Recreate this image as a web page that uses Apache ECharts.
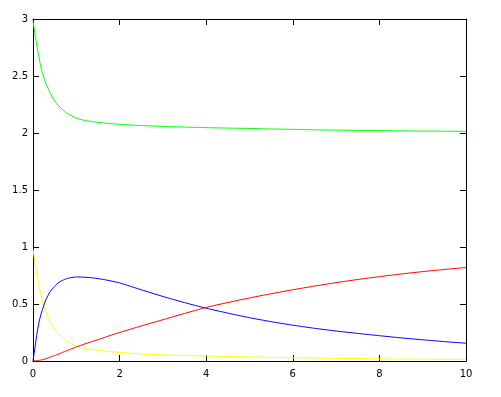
<!DOCTYPE html>
<html>
<head>
<meta charset="utf-8">
<script src="https://cdn.jsdelivr.net/npm/echarts@6/dist/echarts.min.js"></script>
<style>
html,body{margin:0;padding:0;background:#fff;}
#chart{width:501px;height:397px;}
</style>
</head>
<body>
<div id="chart"></div>
<script>
var times = [0, 0.05, 0.1, 0.15, 0.2, 0.3, 0.4, 0.5, 0.6, 0.7, 0.8, 1.0, 1.2, 1.4, 1.6, 1.8, 2.0, 2.5, 3.0, 3.5, 4.0, 4.5, 5.0, 5.5, 6.0, 6.5, 7.0, 7.5, 8.0, 8.5, 9.0, 9.5, 10];
var greenVals = [2.98, 2.86, 2.74, 2.64, 2.55, 2.43, 2.35, 2.28, 2.235, 2.20, 2.17, 2.13, 2.11, 2.098, 2.09, 2.082, 2.076, 2.065, 2.058, 2.052, 2.047, 2.043, 2.04, 2.035, 2.032, 2.028, 2.025, 2.023, 2.021, 2.019, 2.017, 2.016, 2.015];
var yellowVals = [0.98, 0.85, 0.74, 0.64, 0.55, 0.43, 0.34, 0.28, 0.235, 0.20, 0.17, 0.13, 0.11, 0.098, 0.09, 0.082, 0.076, 0.062, 0.054, 0.048, 0.044, 0.04, 0.036, 0.032, 0.029, 0.026, 0.023, 0.021, 0.019, 0.017, 0.016, 0.015, 0.014];
var blueVals = [0, 0.13, 0.26, 0.36, 0.43, 0.54, 0.61, 0.655, 0.69, 0.71, 0.725, 0.737, 0.735, 0.728, 0.717, 0.702, 0.685, 0.625, 0.566, 0.512, 0.463, 0.42, 0.38, 0.345, 0.314, 0.287, 0.263, 0.242, 0.222, 0.203, 0.186, 0.17, 0.156];
var redVals = [0, 0.001, 0.003, 0.006, 0.01, 0.02, 0.035, 0.048, 0.062, 0.078, 0.093, 0.123, 0.15, 0.175, 0.2, 0.226, 0.25, 0.307, 0.362, 0.417, 0.47, 0.513, 0.553, 0.59, 0.625, 0.657, 0.687, 0.715, 0.74, 0.763, 0.784, 0.803, 0.82];
var xTicks = [0, 2, 4, 6, 8, 10];
var yTicks = [0, 0.5, 1, 1.5, 2, 2.5, 3];

function pairs(vals) { return times.map(function (t, i) { return [t, vals[i]]; }); }

var chart = echarts.init(document.getElementById('chart'), null, {renderer: 'canvas'});
var font = {fontFamily: 'DejaVu Sans', fontSize: 10, color: '#000'};
function mkSeries(vals, color) {
  return {type: 'line', data: pairs(vals), showSymbol: false, smooth: 0.2,
    lineStyle: {color: color, width: 1}, itemStyle: {color: color}, silent: true};
}
function axisBase() {
  return {
    axisLine: {show: true, onZero: false, lineStyle: {color: '#000', width: 1}},
    axisTick: {show: true, inside: true, length: 6, lineStyle: {color: '#000', width: 1}},
    splitLine: {show: false}
  };
}
chart.setOption({
  animation: false,
  backgroundColor: '#fff',
  grid: {left: 33, right: 35, top: 19, bottom: 36, containLabel: false},
  xAxis: [
    Object.assign({type: 'value', min: xTicks[0], max: xTicks[xTicks.length - 1], interval: 2, position: 'bottom',
      axisLabel: Object.assign({margin: 8, formatter: function (v) { return String(v); }}, font)}, axisBase()),
    Object.assign({type: 'value', min: xTicks[0], max: xTicks[xTicks.length - 1], interval: 2, position: 'top',
      axisLabel: {show: false}}, axisBase())
  ],
  yAxis: [
    Object.assign({type: 'value', min: yTicks[0], max: yTicks[yTicks.length - 1], interval: 0.5, position: 'left',
      axisLabel: Object.assign({margin: 5, formatter: function (v) { return String(v); }}, font)}, axisBase()),
    Object.assign({type: 'value', min: yTicks[0], max: yTicks[yTicks.length - 1], interval: 0.5, position: 'right',
      axisLabel: {show: false}}, axisBase())
  ],
  series: [
    mkSeries(greenVals, '#00ff00'),
    mkSeries(yellowVals, '#ffff00'),
    mkSeries(blueVals, '#0000ff'),
    mkSeries(redVals, '#ff0000')
  ]
});
</script>
</body>
</html>
